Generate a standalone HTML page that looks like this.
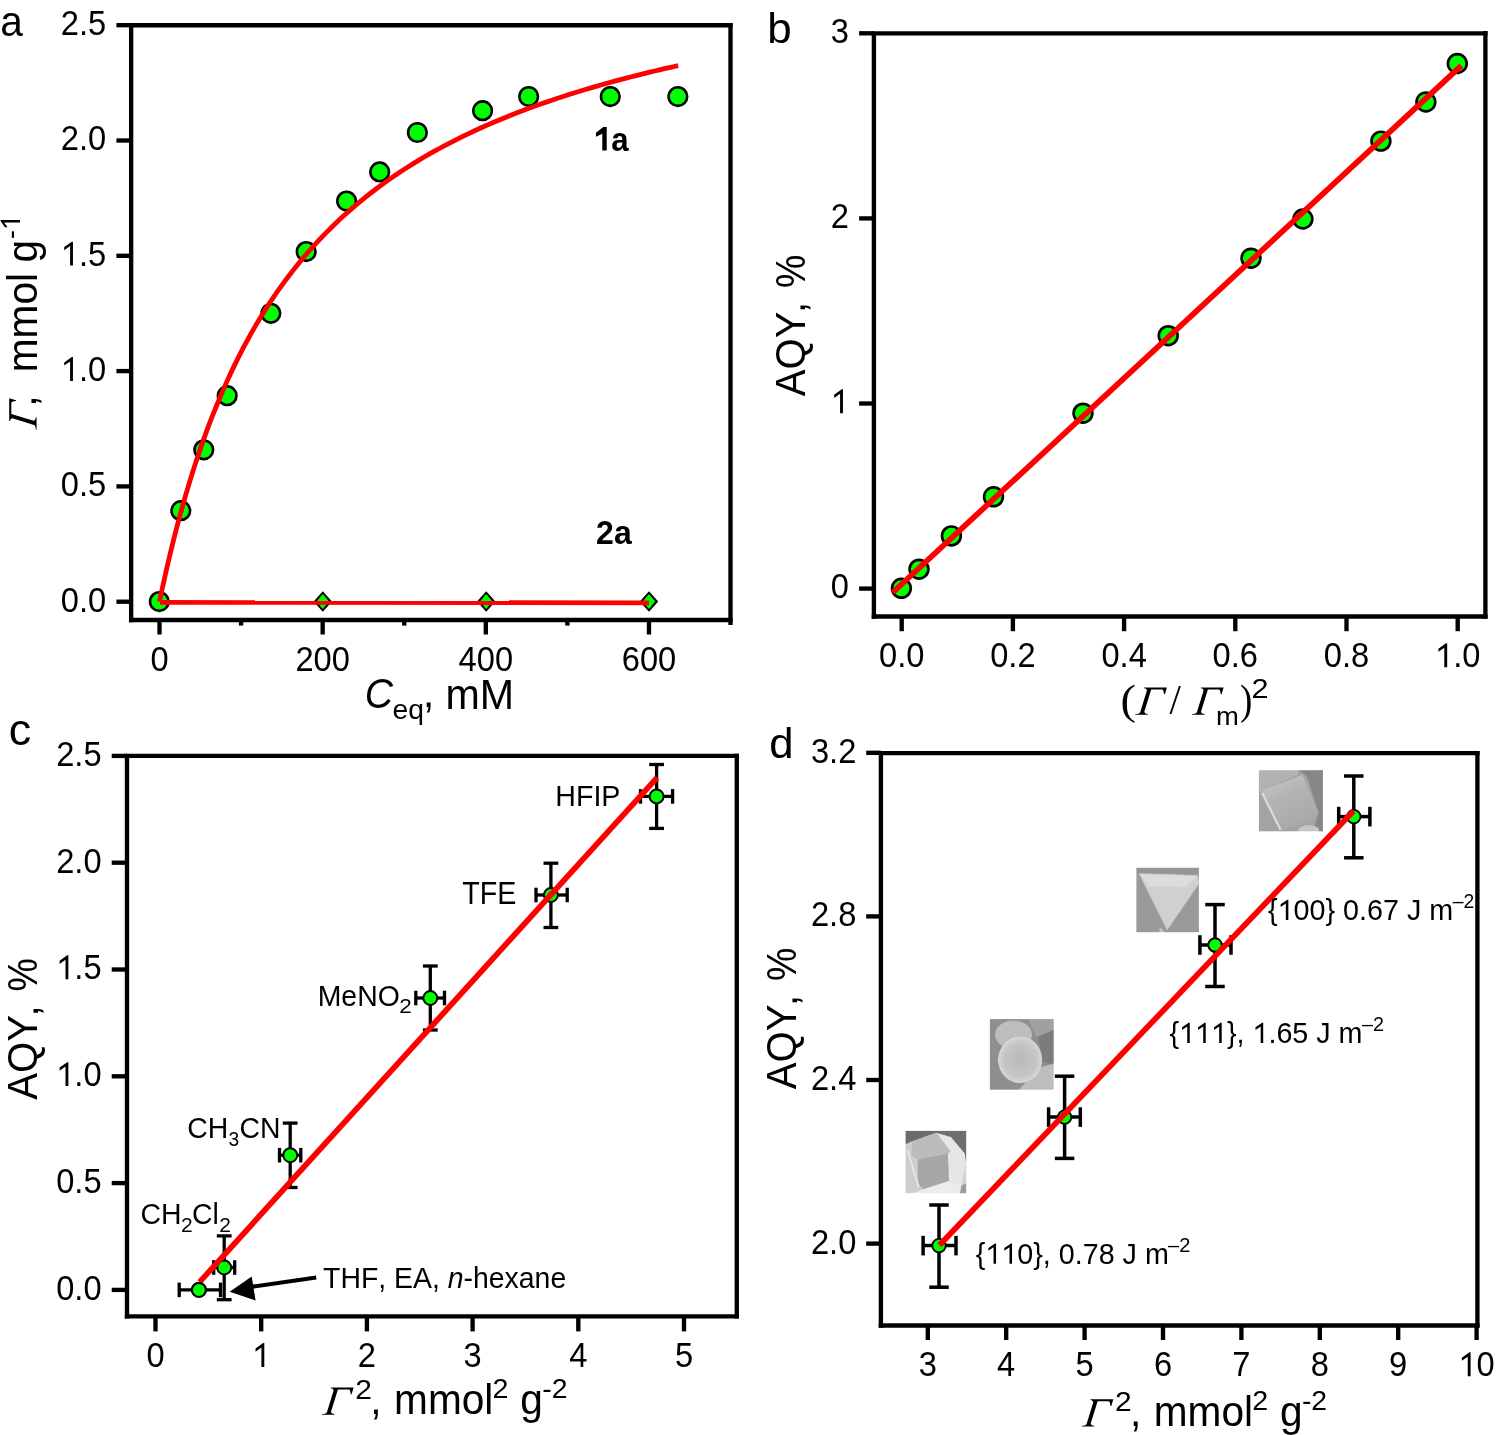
<!DOCTYPE html><html><head><meta charset="utf-8"><style>html,body{margin:0;padding:0;background:#fff;width:1496px;height:1435px;}svg{display:block;will-change:transform;}text{fill:#000;font-kerning:none;}</style></head><body><svg width="1496" height="1435" viewBox="0 0 1496 1435">
<rect width="1496" height="1435" fill="#fff"/>
<line x1="128.97" y1="25.2" x2="732.67" y2="25.2" stroke="#000" stroke-width="4.35" stroke-linecap="butt"/>
<line x1="128.97" y1="620" x2="732.67" y2="620" stroke="#000" stroke-width="4.35" stroke-linecap="butt"/>
<line x1="131.15" y1="25.2" x2="131.15" y2="622.17" stroke="#000" stroke-width="4.35" stroke-linecap="butt"/>
<line x1="730.5" y1="23.02" x2="730.5" y2="624.97" stroke="#000" stroke-width="4.35" stroke-linecap="butt"/>
<line x1="159.5" y1="620" x2="159.5" y2="634.5" stroke="#000" stroke-width="4.35" stroke-linecap="butt"/>
<text transform="translate(159.5,670.65) scale(0.95,1)" font-size="34.4" font-family='"Liberation Sans", sans-serif' text-anchor="middle">0</text>
<line x1="322.66" y1="620" x2="322.66" y2="634.5" stroke="#000" stroke-width="4.35" stroke-linecap="butt"/>
<text transform="translate(322.66,670.65) scale(0.95,1)" font-size="34.4" font-family='"Liberation Sans", sans-serif' text-anchor="middle">200</text>
<line x1="485.82" y1="620" x2="485.82" y2="634.5" stroke="#000" stroke-width="4.35" stroke-linecap="butt"/>
<text transform="translate(485.82,670.65) scale(0.95,1)" font-size="34.4" font-family='"Liberation Sans", sans-serif' text-anchor="middle">400</text>
<line x1="648.98" y1="620" x2="648.98" y2="634.5" stroke="#000" stroke-width="4.35" stroke-linecap="butt"/>
<text transform="translate(648.98,670.65) scale(0.95,1)" font-size="34.4" font-family='"Liberation Sans", sans-serif' text-anchor="middle">600</text>
<line x1="241.08" y1="620" x2="241.08" y2="625.6" stroke="#000" stroke-width="4.35" stroke-linecap="butt"/>
<line x1="404.24" y1="620" x2="404.24" y2="625.6" stroke="#000" stroke-width="4.35" stroke-linecap="butt"/>
<line x1="567.4" y1="620" x2="567.4" y2="625.6" stroke="#000" stroke-width="4.35" stroke-linecap="butt"/>
<line x1="116.4" y1="601.7" x2="131.15" y2="601.7" stroke="#000" stroke-width="4.35" stroke-linecap="butt"/>
<text transform="translate(106.21,611.5) scale(0.95,1)" font-size="34.4" font-family='"Liberation Sans", sans-serif' text-anchor="end">0.0</text>
<line x1="116.4" y1="486.4" x2="131.15" y2="486.4" stroke="#000" stroke-width="4.35" stroke-linecap="butt"/>
<text transform="translate(106.21,496.2) scale(0.95,1)" font-size="34.4" font-family='"Liberation Sans", sans-serif' text-anchor="end">0.5</text>
<line x1="116.4" y1="371.1" x2="131.15" y2="371.1" stroke="#000" stroke-width="4.35" stroke-linecap="butt"/>
<text transform="translate(106.21,380.9) scale(0.95,1)" font-size="34.4" font-family='"Liberation Sans", sans-serif' text-anchor="end">1.0</text>
<g transform="translate(106.21,380.9) scale(0.95,1)"><path transform="translate(-47.82,0) scale(0.01680,-0.01680)" d="M156 0L156 153L515 153L515 1237L197 1010L197 1180L530 1409L696 1409L696 153L1039 153L1039 0Z" fill="#fff" stroke="#fff" stroke-width="142.88" stroke-linejoin="round"/><path transform="translate(-47.82,0) scale(0.01680,-0.01680)" d="M763 0L584 0L584 1161L215 910L215 1100L690 1425L763 1425Z" fill="#000"/></g>
<line x1="116.4" y1="255.8" x2="131.15" y2="255.8" stroke="#000" stroke-width="4.35" stroke-linecap="butt"/>
<text transform="translate(106.21,265.6) scale(0.95,1)" font-size="34.4" font-family='"Liberation Sans", sans-serif' text-anchor="end">1.5</text>
<g transform="translate(106.21,265.6) scale(0.95,1)"><path transform="translate(-47.82,0) scale(0.01680,-0.01680)" d="M156 0L156 153L515 153L515 1237L197 1010L197 1180L530 1409L696 1409L696 153L1039 153L1039 0Z" fill="#fff" stroke="#fff" stroke-width="142.88" stroke-linejoin="round"/><path transform="translate(-47.82,0) scale(0.01680,-0.01680)" d="M763 0L584 0L584 1161L215 910L215 1100L690 1425L763 1425Z" fill="#000"/></g>
<line x1="116.4" y1="140.5" x2="131.15" y2="140.5" stroke="#000" stroke-width="4.35" stroke-linecap="butt"/>
<text transform="translate(106.21,150.3) scale(0.95,1)" font-size="34.4" font-family='"Liberation Sans", sans-serif' text-anchor="end">2.0</text>
<line x1="116.4" y1="25.2" x2="131.15" y2="25.2" stroke="#000" stroke-width="4.35" stroke-linecap="butt"/>
<text transform="translate(106.21,35) scale(0.95,1)" font-size="34.4" font-family='"Liberation Sans", sans-serif' text-anchor="end">2.5</text>
<path d="M322.8 591.15L332 601.5L322.8 611.85L313.6 601.5Z" fill="#000"/>
<path d="M322.8 593.9L329.05 601.5L322.8 609.1L316.55 601.5Z" fill="#00ff00"/>
<path d="M486.2 591.15L495.4 601.5L486.2 611.85L477 601.5Z" fill="#000"/>
<path d="M486.2 593.9L492.45 601.5L486.2 609.1L479.95 601.5Z" fill="#00ff00"/>
<path d="M649 591.15L658.2 601.5L649 611.85L639.8 601.5Z" fill="#000"/>
<path d="M649 593.9L655.25 601.5L649 609.1L642.75 601.5Z" fill="#00ff00"/>
<circle cx="159.3" cy="601.6" r="9.3" fill="#00ff00" stroke="#000" stroke-width="2.6"/>
<circle cx="180.8" cy="510.7" r="9.3" fill="#00ff00" stroke="#000" stroke-width="2.6"/>
<circle cx="203.8" cy="449.8" r="9.3" fill="#00ff00" stroke="#000" stroke-width="2.6"/>
<circle cx="227.2" cy="395.7" r="9.3" fill="#00ff00" stroke="#000" stroke-width="2.6"/>
<circle cx="270.9" cy="313.3" r="9.3" fill="#00ff00" stroke="#000" stroke-width="2.6"/>
<circle cx="306.2" cy="251.6" r="9.3" fill="#00ff00" stroke="#000" stroke-width="2.6"/>
<circle cx="346.6" cy="201.1" r="9.3" fill="#00ff00" stroke="#000" stroke-width="2.6"/>
<circle cx="379.7" cy="171.9" r="9.3" fill="#00ff00" stroke="#000" stroke-width="2.6"/>
<circle cx="417.4" cy="132.5" r="9.3" fill="#00ff00" stroke="#000" stroke-width="2.6"/>
<circle cx="482.6" cy="110.7" r="9.3" fill="#00ff00" stroke="#000" stroke-width="2.6"/>
<circle cx="528.7" cy="96.5" r="9.3" fill="#00ff00" stroke="#000" stroke-width="2.6"/>
<circle cx="610.3" cy="96.6" r="9.3" fill="#00ff00" stroke="#000" stroke-width="2.6"/>
<circle cx="677.9" cy="96.6" r="9.3" fill="#00ff00" stroke="#000" stroke-width="2.6"/>
<polyline fill="none" stroke="#ff0000" stroke-width="4.8" stroke-linejoin="round" points="159.5,601.7 160.32,597.79 161.13,593.92 161.95,590.1 162.76,586.32 163.58,582.58 164.39,578.88 165.21,575.23 166.03,571.61 166.84,568.03 167.66,564.5 168.47,561 169.29,557.54 170.11,554.12 170.92,550.73 171.74,547.38 172.55,544.06 173.37,540.78 174.18,537.54 175,534.32 175.82,531.14 176.63,528 177.45,524.88 178.26,521.8 179.08,518.75 179.9,515.73 180.71,512.74 181.53,509.77 182.34,506.84 183.16,503.94 183.97,501.07 184.79,498.22 185.61,495.4 186.42,492.61 187.24,489.85 188.05,487.11 188.87,484.4 189.68,481.72 190.5,479.06 191.32,476.42 192.13,473.81 194.58,466.12 197.03,458.65 199.47,451.37 201.92,444.29 204.37,437.4 206.82,430.68 209.26,424.14 211.71,417.76 214.16,411.54 216.61,405.48 219.05,399.56 221.5,393.78 223.95,388.14 226.4,382.64 228.84,377.26 231.29,372.01 233.74,366.87 236.19,361.85 238.63,356.94 241.08,352.14 243.53,347.44 245.97,342.85 248.42,338.35 250.87,333.94 253.32,329.63 255.76,325.41 258.21,321.27 260.66,317.22 263.11,313.24 265.55,309.35 268,305.53 270.45,301.79 272.9,298.12 275.34,294.51 277.79,290.98 280.24,287.51 282.69,284.11 287.58,277.48 292.48,271.1 297.37,264.93 302.26,258.98 307.16,253.23 312.05,247.67 316.95,242.3 321.84,237.1 326.74,232.06 331.63,227.18 336.53,222.45 341.42,217.86 346.32,213.41 351.21,209.09 356.11,204.9 361,200.82 365.9,196.86 370.79,193.01 375.69,189.27 380.58,185.62 385.48,182.08 390.37,178.62 395.27,175.26 400.16,171.98 405.06,168.79 409.95,165.67 414.85,162.63 419.74,159.67 424.63,156.78 429.53,153.95 434.42,151.19 439.32,148.5 444.21,145.87 449.11,143.3 454,140.78 458.9,138.33 463.79,135.92 468.69,133.57 473.58,131.27 478.48,129.02 483.37,126.81 488.27,124.65 493.16,122.54 498.06,120.46 502.95,118.43 507.85,116.45 512.74,114.5 517.64,112.58 522.53,110.71 527.43,108.87 532.32,107.07 537.22,105.3 542.11,103.56 547,101.86 551.9,100.18 556.79,98.54 561.69,96.93 566.58,95.34 571.48,93.79 576.37,92.26 581.27,90.76 586.16,89.28 591.06,87.83 595.95,86.4 600.85,85 605.74,83.62 610.64,82.26 615.53,80.93 620.43,79.62 625.32,78.32 630.22,77.05 635.11,75.8 640.01,74.57 644.9,73.36 649.8,72.17 654.69,70.99 659.59,69.84 664.48,68.7 669.38,67.57 674.27,66.47 678.19,65.6"/>
<line x1="160" y1="602.4" x2="649" y2="602.8" stroke="#ff0000" stroke-width="4.7" stroke-linecap="butt"/>
<text transform="translate(593.85,150.6) scale(0.92,1)" font-size="34" font-family='"Liberation Sans", sans-serif' font-weight="bold">1a</text>
<g transform="translate(593.85,150.6) scale(0.92,1)"><path transform="translate(0,0) scale(0.01660,-0.01660)" d="M129 0L129 209L478 209L478 1170L140 959L140 1180L493 1409L759 1409L759 209L1082 209L1082 0Z" fill="#fff" stroke="#fff" stroke-width="144.56" stroke-linejoin="round"/><path transform="translate(0,0) scale(0.01660,-0.01660)" d="M844 0L552 0L552 1010L140 837L140 1078L615 1425L844 1425Z" fill="#000"/></g>
<text transform="translate(596.08,543.6) scale(0.95,1)" font-size="33.71" font-family='"Liberation Sans", sans-serif' font-weight="bold">2a</text>
<text transform="translate(0.36,36.28) scale(0.97,1)" font-size="41.93" font-family='"Liberation Sans", sans-serif'>a</text>
<text transform="translate(364.85,708.48) scale(0.93,1)" font-size="42.11" font-family='"Liberation Sans", sans-serif' font-style="italic">C</text>
<text transform="translate(392.43,719.08) scale(1.01,1)" font-size="28" font-family='"Liberation Sans", sans-serif'>eq</text>
<text transform="translate(422.97,707.41) scale(0.96,1)" font-size="42" font-family='"Liberation Sans", sans-serif'>,</text>
<text transform="translate(445.52,708.9) scale(0.96,1)" font-size="42.92" font-family='"Liberation Sans", sans-serif'>mM</text>
<path transform="translate(36.6,429.8) rotate(-90) scale(1,1)" d="M0 0L12.6 0L12.5 -0.8C10.5 -0.9 9.5 -1.4 9.0 -3.0L15.9 -25.3L26.6 -25.3C27.9 -25.3 28.4 -24.2 28.7 -20.6L29.6 -20.6L31.6 -27.4L8.8 -27.4L8.9 -26.6C10.4 -26.5 11.2 -25.8 11.6 -24.3L4.9 -2.6C4.4 -1.4 3.0 -0.9 0.2 -0.8Z" fill="#000"/>
<text transform="translate(36.44,406.86) rotate(-90) scale(0.96,1)" font-size="42.3" font-family='"Liberation Sans", sans-serif'>,</text>
<text transform="translate(36.6,372.23) rotate(-90) scale(0.96,1)" font-size="42.3" font-family='"Liberation Sans", sans-serif'>mmol</text>
<text transform="translate(37.23,262.42) rotate(-90) scale(0.96,1)" font-size="42.3" font-family='"Liberation Sans", sans-serif'>g</text>
<text transform="translate(20,239.01) rotate(-90) scale(0.96,1)" font-size="28" font-family='"Liberation Sans", sans-serif'>-1</text>
<g transform="translate(20,239.01) rotate(-90) scale(0.96,1)"><path transform="translate(9.32,0) scale(0.01367,-0.01367)" d="M156 0L156 153L515 153L515 1237L197 1010L197 1180L530 1409L696 1409L696 153L1039 153L1039 0Z" fill="#fff" stroke="#fff" stroke-width="175.54" stroke-linejoin="round"/><path transform="translate(9.32,0) scale(0.01367,-0.01367)" d="M763 0L584 0L584 1161L215 910L215 1100L690 1425L763 1425Z" fill="#000"/></g>
<line x1="871.73" y1="33.3" x2="1487.58" y2="33.3" stroke="#000" stroke-width="4.35" stroke-linecap="butt"/>
<line x1="871.73" y1="616.5" x2="1487.58" y2="616.5" stroke="#000" stroke-width="4.35" stroke-linecap="butt"/>
<line x1="873.9" y1="33.3" x2="873.9" y2="618.67" stroke="#000" stroke-width="4.35" stroke-linecap="butt"/>
<line x1="1485.4" y1="31.12" x2="1485.4" y2="618.67" stroke="#000" stroke-width="4.35" stroke-linecap="butt"/>
<line x1="901.7" y1="616.5" x2="901.7" y2="631.2" stroke="#000" stroke-width="4.35" stroke-linecap="butt"/>
<text transform="translate(901.7,667.15) scale(0.95,1)" font-size="34.4" font-family='"Liberation Sans", sans-serif' text-anchor="middle">0.0</text>
<line x1="1012.9" y1="616.5" x2="1012.9" y2="631.2" stroke="#000" stroke-width="4.35" stroke-linecap="butt"/>
<text transform="translate(1012.9,667.15) scale(0.95,1)" font-size="34.4" font-family='"Liberation Sans", sans-serif' text-anchor="middle">0.2</text>
<line x1="1124.1" y1="616.5" x2="1124.1" y2="631.2" stroke="#000" stroke-width="4.35" stroke-linecap="butt"/>
<text transform="translate(1124.1,667.15) scale(0.95,1)" font-size="34.4" font-family='"Liberation Sans", sans-serif' text-anchor="middle">0.4</text>
<line x1="1235.3" y1="616.5" x2="1235.3" y2="631.2" stroke="#000" stroke-width="4.35" stroke-linecap="butt"/>
<text transform="translate(1235.3,667.15) scale(0.95,1)" font-size="34.4" font-family='"Liberation Sans", sans-serif' text-anchor="middle">0.6</text>
<line x1="1346.5" y1="616.5" x2="1346.5" y2="631.2" stroke="#000" stroke-width="4.35" stroke-linecap="butt"/>
<text transform="translate(1346.5,667.15) scale(0.95,1)" font-size="34.4" font-family='"Liberation Sans", sans-serif' text-anchor="middle">0.8</text>
<line x1="1457.7" y1="616.5" x2="1457.7" y2="631.2" stroke="#000" stroke-width="4.35" stroke-linecap="butt"/>
<text transform="translate(1457.7,667.15) scale(0.95,1)" font-size="34.4" font-family='"Liberation Sans", sans-serif' text-anchor="middle">1.0</text>
<g transform="translate(1457.7,667.15) scale(0.95,1)"><path transform="translate(-23.91,0) scale(0.01680,-0.01680)" d="M156 0L156 153L515 153L515 1237L197 1010L197 1180L530 1409L696 1409L696 153L1039 153L1039 0Z" fill="#fff" stroke="#fff" stroke-width="142.88" stroke-linejoin="round"/><path transform="translate(-23.91,0) scale(0.01680,-0.01680)" d="M763 0L584 0L584 1161L215 910L215 1100L690 1425L763 1425Z" fill="#000"/></g>
<line x1="859.1" y1="588.6" x2="873.9" y2="588.6" stroke="#000" stroke-width="4.35" stroke-linecap="butt"/>
<text transform="translate(848.94,598.3) scale(0.95,1)" font-size="34.4" font-family='"Liberation Sans", sans-serif' text-anchor="end">0</text>
<line x1="859.1" y1="403.5" x2="873.9" y2="403.5" stroke="#000" stroke-width="4.35" stroke-linecap="butt"/>
<text transform="translate(848.94,413.2) scale(0.95,1)" font-size="34.4" font-family='"Liberation Sans", sans-serif' text-anchor="end">1</text>
<g transform="translate(848.94,413.2) scale(0.95,1)"><path transform="translate(-19.13,0) scale(0.01680,-0.01680)" d="M156 0L156 153L515 153L515 1237L197 1010L197 1180L530 1409L696 1409L696 153L1039 153L1039 0Z" fill="#fff" stroke="#fff" stroke-width="142.88" stroke-linejoin="round"/><path transform="translate(-19.13,0) scale(0.01680,-0.01680)" d="M763 0L584 0L584 1161L215 910L215 1100L690 1425L763 1425Z" fill="#000"/></g>
<line x1="859.1" y1="218.4" x2="873.9" y2="218.4" stroke="#000" stroke-width="4.35" stroke-linecap="butt"/>
<text transform="translate(848.94,228.1) scale(0.95,1)" font-size="34.4" font-family='"Liberation Sans", sans-serif' text-anchor="end">2</text>
<line x1="859.1" y1="33.3" x2="873.9" y2="33.3" stroke="#000" stroke-width="4.35" stroke-linecap="butt"/>
<text transform="translate(848.94,43) scale(0.95,1)" font-size="34.4" font-family='"Liberation Sans", sans-serif' text-anchor="end">3</text>
<circle cx="901.4" cy="588.3" r="9.4" fill="#00ff00" stroke="#000" stroke-width="2.65"/>
<circle cx="919" cy="569.2" r="9.4" fill="#00ff00" stroke="#000" stroke-width="2.65"/>
<circle cx="951.4" cy="535.9" r="9.4" fill="#00ff00" stroke="#000" stroke-width="2.65"/>
<circle cx="993.5" cy="496.8" r="9.4" fill="#00ff00" stroke="#000" stroke-width="2.65"/>
<circle cx="1083" cy="413.2" r="9.4" fill="#00ff00" stroke="#000" stroke-width="2.65"/>
<circle cx="1168.2" cy="335.7" r="9.4" fill="#00ff00" stroke="#000" stroke-width="2.65"/>
<circle cx="1251" cy="258.2" r="9.4" fill="#00ff00" stroke="#000" stroke-width="2.65"/>
<circle cx="1302.9" cy="219" r="9.4" fill="#00ff00" stroke="#000" stroke-width="2.65"/>
<circle cx="1380.9" cy="141.1" r="9.4" fill="#00ff00" stroke="#000" stroke-width="2.65"/>
<circle cx="1425.9" cy="102" r="9.4" fill="#00ff00" stroke="#000" stroke-width="2.65"/>
<circle cx="1457.3" cy="63.5" r="9.4" fill="#00ff00" stroke="#000" stroke-width="2.65"/>
<line x1="892.7" y1="592.5" x2="1461.3" y2="65.7" stroke="#ff0000" stroke-width="5.7" stroke-linecap="butt"/>
<text transform="translate(767.15,43.07) scale(1.03,1)" font-size="42.59" font-family='"Liberation Sans", sans-serif'>b</text>
<text transform="translate(804.5,396.2) rotate(-90) scale(0.93,1)" font-size="43.07" font-family='"Liberation Sans", sans-serif'>AQY</text>
<text transform="translate(805.42,312.9) rotate(-90) scale(0.93,1)" font-size="43.07" font-family='"Liberation Sans", sans-serif'>,</text>
<text transform="translate(804.5,287.91) rotate(-90) scale(0.87,1)" font-size="43.07" font-family='"Liberation Sans", sans-serif'>%</text>
<text transform="translate(1120.42,714.42) scale(1.12,1)" font-size="41.33" font-family='"Liberation Serif", serif'>(</text>
<path transform="translate(1135.3,714.8) rotate(0) scale(1,1)" d="M0 0L12.6 0L12.5 -0.8C10.5 -0.9 9.5 -1.4 9.0 -3.0L15.9 -25.3L26.6 -25.3C27.9 -25.3 28.4 -24.2 28.7 -20.6L29.6 -20.6L31.6 -27.4L8.8 -27.4L8.9 -26.6C10.4 -26.5 11.2 -25.8 11.6 -24.3L4.9 -2.6C4.4 -1.4 3.0 -0.9 0.2 -0.8Z" fill="#000"/>
<text transform="translate(1169.5,714.37) scale(0.95,1)" font-size="43.13" font-family='"Liberation Serif", serif'>/</text>
<path transform="translate(1192,714.8) rotate(0) scale(1,1)" d="M0 0L12.6 0L12.5 -0.8C10.5 -0.9 9.5 -1.4 9.0 -3.0L15.9 -25.3L26.6 -25.3C27.9 -25.3 28.4 -24.2 28.7 -20.6L29.6 -20.6L31.6 -27.4L8.8 -27.4L8.9 -26.6C10.4 -26.5 11.2 -25.8 11.6 -24.3L4.9 -2.6C4.4 -1.4 3.0 -0.9 0.2 -0.8Z" fill="#000"/>
<text transform="translate(1215.92,725.2) scale(1.08,1)" font-size="25.42" font-family='"Liberation Sans", sans-serif'>m</text>
<text transform="translate(1240.09,714.16) scale(0.87,1)" font-size="42.56" font-family='"Liberation Serif", serif'>)</text>
<text transform="translate(1251.47,697.7) scale(1.11,1)" font-size="27.57" font-family='"Liberation Sans", sans-serif'>2</text>
<line x1="124.83" y1="755.9" x2="738.97" y2="755.9" stroke="#000" stroke-width="4.35" stroke-linecap="butt"/>
<line x1="124.83" y1="1316.4" x2="738.97" y2="1316.4" stroke="#000" stroke-width="4.35" stroke-linecap="butt"/>
<line x1="127" y1="755.9" x2="127" y2="1318.58" stroke="#000" stroke-width="4.35" stroke-linecap="butt"/>
<line x1="736.8" y1="753.73" x2="736.8" y2="1318.58" stroke="#000" stroke-width="4.35" stroke-linecap="butt"/>
<line x1="155.5" y1="1316.4" x2="155.5" y2="1331.4" stroke="#000" stroke-width="4.35" stroke-linecap="butt"/>
<text transform="translate(155.5,1367.05) scale(0.95,1)" font-size="34.4" font-family='"Liberation Sans", sans-serif' text-anchor="middle">0</text>
<line x1="261.2" y1="1316.4" x2="261.2" y2="1331.4" stroke="#000" stroke-width="4.35" stroke-linecap="butt"/>
<text transform="translate(261.2,1367.05) scale(0.95,1)" font-size="34.4" font-family='"Liberation Sans", sans-serif' text-anchor="middle">1</text>
<g transform="translate(261.2,1367.05) scale(0.95,1)"><path transform="translate(-9.57,0) scale(0.01680,-0.01680)" d="M156 0L156 153L515 153L515 1237L197 1010L197 1180L530 1409L696 1409L696 153L1039 153L1039 0Z" fill="#fff" stroke="#fff" stroke-width="142.88" stroke-linejoin="round"/><path transform="translate(-9.57,0) scale(0.01680,-0.01680)" d="M763 0L584 0L584 1161L215 910L215 1100L690 1425L763 1425Z" fill="#000"/></g>
<line x1="366.9" y1="1316.4" x2="366.9" y2="1331.4" stroke="#000" stroke-width="4.35" stroke-linecap="butt"/>
<text transform="translate(366.9,1367.05) scale(0.95,1)" font-size="34.4" font-family='"Liberation Sans", sans-serif' text-anchor="middle">2</text>
<line x1="472.6" y1="1316.4" x2="472.6" y2="1331.4" stroke="#000" stroke-width="4.35" stroke-linecap="butt"/>
<text transform="translate(472.6,1367.05) scale(0.95,1)" font-size="34.4" font-family='"Liberation Sans", sans-serif' text-anchor="middle">3</text>
<line x1="578.3" y1="1316.4" x2="578.3" y2="1331.4" stroke="#000" stroke-width="4.35" stroke-linecap="butt"/>
<text transform="translate(578.3,1367.05) scale(0.95,1)" font-size="34.4" font-family='"Liberation Sans", sans-serif' text-anchor="middle">4</text>
<line x1="684" y1="1316.4" x2="684" y2="1331.4" stroke="#000" stroke-width="4.35" stroke-linecap="butt"/>
<text transform="translate(684,1367.05) scale(0.95,1)" font-size="34.4" font-family='"Liberation Sans", sans-serif' text-anchor="middle">5</text>
<line x1="111.7" y1="1289.9" x2="127" y2="1289.9" stroke="#000" stroke-width="4.35" stroke-linecap="butt"/>
<text transform="translate(101.61,1299.7) scale(0.95,1)" font-size="34.4" font-family='"Liberation Sans", sans-serif' text-anchor="end">0.0</text>
<line x1="111.7" y1="1183.1" x2="127" y2="1183.1" stroke="#000" stroke-width="4.35" stroke-linecap="butt"/>
<text transform="translate(101.61,1192.9) scale(0.95,1)" font-size="34.4" font-family='"Liberation Sans", sans-serif' text-anchor="end">0.5</text>
<line x1="111.7" y1="1076.3" x2="127" y2="1076.3" stroke="#000" stroke-width="4.35" stroke-linecap="butt"/>
<text transform="translate(101.61,1086.1) scale(0.95,1)" font-size="34.4" font-family='"Liberation Sans", sans-serif' text-anchor="end">1.0</text>
<g transform="translate(101.61,1086.1) scale(0.95,1)"><path transform="translate(-47.82,0) scale(0.01680,-0.01680)" d="M156 0L156 153L515 153L515 1237L197 1010L197 1180L530 1409L696 1409L696 153L1039 153L1039 0Z" fill="#fff" stroke="#fff" stroke-width="142.88" stroke-linejoin="round"/><path transform="translate(-47.82,0) scale(0.01680,-0.01680)" d="M763 0L584 0L584 1161L215 910L215 1100L690 1425L763 1425Z" fill="#000"/></g>
<line x1="111.7" y1="969.5" x2="127" y2="969.5" stroke="#000" stroke-width="4.35" stroke-linecap="butt"/>
<text transform="translate(101.61,979.3) scale(0.95,1)" font-size="34.4" font-family='"Liberation Sans", sans-serif' text-anchor="end">1.5</text>
<g transform="translate(101.61,979.3) scale(0.95,1)"><path transform="translate(-47.82,0) scale(0.01680,-0.01680)" d="M156 0L156 153L515 153L515 1237L197 1010L197 1180L530 1409L696 1409L696 153L1039 153L1039 0Z" fill="#fff" stroke="#fff" stroke-width="142.88" stroke-linejoin="round"/><path transform="translate(-47.82,0) scale(0.01680,-0.01680)" d="M763 0L584 0L584 1161L215 910L215 1100L690 1425L763 1425Z" fill="#000"/></g>
<line x1="111.7" y1="862.7" x2="127" y2="862.7" stroke="#000" stroke-width="4.35" stroke-linecap="butt"/>
<text transform="translate(101.61,872.5) scale(0.95,1)" font-size="34.4" font-family='"Liberation Sans", sans-serif' text-anchor="end">2.0</text>
<line x1="111.7" y1="755.9" x2="127" y2="755.9" stroke="#000" stroke-width="4.35" stroke-linecap="butt"/>
<text transform="translate(101.61,765.7) scale(0.95,1)" font-size="34.4" font-family='"Liberation Sans", sans-serif' text-anchor="end">2.5</text>
<line x1="179.2" y1="1289.9" x2="220.5" y2="1289.9" stroke="#000" stroke-width="3.3" stroke-linecap="butt"/>
<line x1="179.2" y1="1282.6" x2="179.2" y2="1297.2" stroke="#000" stroke-width="3.3" stroke-linecap="butt"/>
<line x1="220.5" y1="1282.6" x2="220.5" y2="1297.2" stroke="#000" stroke-width="3.3" stroke-linecap="butt"/>
<line x1="224.2" y1="1235.9" x2="224.2" y2="1299.7" stroke="#000" stroke-width="3.3" stroke-linecap="butt"/>
<line x1="216.8" y1="1235.9" x2="231.6" y2="1235.9" stroke="#000" stroke-width="3.3" stroke-linecap="butt"/>
<line x1="216.8" y1="1299.7" x2="231.6" y2="1299.7" stroke="#000" stroke-width="3.3" stroke-linecap="butt"/>
<line x1="213.7" y1="1267.5" x2="234.7" y2="1267.5" stroke="#000" stroke-width="3.3" stroke-linecap="butt"/>
<line x1="213.7" y1="1260.2" x2="213.7" y2="1274.8" stroke="#000" stroke-width="3.3" stroke-linecap="butt"/>
<line x1="234.7" y1="1260.2" x2="234.7" y2="1274.8" stroke="#000" stroke-width="3.3" stroke-linecap="butt"/>
<line x1="290.2" y1="1123.1" x2="290.2" y2="1187.5" stroke="#000" stroke-width="3.3" stroke-linecap="butt"/>
<line x1="282.8" y1="1123.1" x2="297.6" y2="1123.1" stroke="#000" stroke-width="3.3" stroke-linecap="butt"/>
<line x1="282.8" y1="1187.5" x2="297.6" y2="1187.5" stroke="#000" stroke-width="3.3" stroke-linecap="butt"/>
<line x1="279.5" y1="1155.2" x2="300.8" y2="1155.2" stroke="#000" stroke-width="3.3" stroke-linecap="butt"/>
<line x1="279.5" y1="1147.9" x2="279.5" y2="1162.5" stroke="#000" stroke-width="3.3" stroke-linecap="butt"/>
<line x1="300.8" y1="1147.9" x2="300.8" y2="1162.5" stroke="#000" stroke-width="3.3" stroke-linecap="butt"/>
<line x1="430.3" y1="966" x2="430.3" y2="1030" stroke="#000" stroke-width="3.3" stroke-linecap="butt"/>
<line x1="422.9" y1="966" x2="437.7" y2="966" stroke="#000" stroke-width="3.3" stroke-linecap="butt"/>
<line x1="422.9" y1="1030" x2="437.7" y2="1030" stroke="#000" stroke-width="3.3" stroke-linecap="butt"/>
<line x1="415.8" y1="998" x2="444.5" y2="998" stroke="#000" stroke-width="3.3" stroke-linecap="butt"/>
<line x1="415.8" y1="990.7" x2="415.8" y2="1005.3" stroke="#000" stroke-width="3.3" stroke-linecap="butt"/>
<line x1="444.5" y1="990.7" x2="444.5" y2="1005.3" stroke="#000" stroke-width="3.3" stroke-linecap="butt"/>
<line x1="550.9" y1="863.2" x2="550.9" y2="927.5" stroke="#000" stroke-width="3.3" stroke-linecap="butt"/>
<line x1="543.5" y1="863.2" x2="558.3" y2="863.2" stroke="#000" stroke-width="3.3" stroke-linecap="butt"/>
<line x1="543.5" y1="927.5" x2="558.3" y2="927.5" stroke="#000" stroke-width="3.3" stroke-linecap="butt"/>
<line x1="536" y1="895" x2="567.2" y2="895" stroke="#000" stroke-width="3.3" stroke-linecap="butt"/>
<line x1="536" y1="887.7" x2="536" y2="902.3" stroke="#000" stroke-width="3.3" stroke-linecap="butt"/>
<line x1="567.2" y1="887.7" x2="567.2" y2="902.3" stroke="#000" stroke-width="3.3" stroke-linecap="butt"/>
<line x1="656.6" y1="764.5" x2="656.6" y2="828.4" stroke="#000" stroke-width="3.3" stroke-linecap="butt"/>
<line x1="649.2" y1="764.5" x2="664" y2="764.5" stroke="#000" stroke-width="3.3" stroke-linecap="butt"/>
<line x1="649.2" y1="828.4" x2="664" y2="828.4" stroke="#000" stroke-width="3.3" stroke-linecap="butt"/>
<line x1="640.5" y1="796.4" x2="672.6" y2="796.4" stroke="#000" stroke-width="3.3" stroke-linecap="butt"/>
<line x1="640.5" y1="789.1" x2="640.5" y2="803.7" stroke="#000" stroke-width="3.3" stroke-linecap="butt"/>
<line x1="672.6" y1="789.1" x2="672.6" y2="803.7" stroke="#000" stroke-width="3.3" stroke-linecap="butt"/>
<circle cx="198.9" cy="1289.9" r="6.95" fill="#00ff00" stroke="#000" stroke-width="1.95"/>
<circle cx="224.2" cy="1267.5" r="6.95" fill="#00ff00" stroke="#000" stroke-width="1.95"/>
<circle cx="290.2" cy="1155.2" r="6.95" fill="#00ff00" stroke="#000" stroke-width="1.95"/>
<circle cx="430.3" cy="998" r="6.95" fill="#00ff00" stroke="#000" stroke-width="1.95"/>
<circle cx="550.9" cy="895" r="6.95" fill="#00ff00" stroke="#000" stroke-width="1.95"/>
<circle cx="656.6" cy="796.4" r="6.95" fill="#00ff00" stroke="#000" stroke-width="1.95"/>
<line x1="199.5" y1="1282.2" x2="657.1" y2="777.6" stroke="#ff0000" stroke-width="5.7" stroke-linecap="butt"/>
<circle cx="198.9" cy="1289.9" r="6.95" fill="#00ff00" stroke="#000" stroke-width="1.95"/>
<text transform="translate(555.31,805.5) scale(0.96,1)" font-size="29.78" font-family='"Liberation Sans", sans-serif'>HFIP</text>
<text transform="translate(462.18,904.1) scale(0.94,1)" font-size="30.51" font-family='"Liberation Sans", sans-serif'>TFE</text>
<text transform="translate(317.71,1006) scale(0.96,1)" font-size="29.6" font-family='"Liberation Sans", sans-serif'>MeNO</text>
<text transform="translate(399.27,1013.4) scale(1.13,1)" font-size="20" font-family='"Liberation Sans", sans-serif'>2</text>
<text transform="translate(187.17,1138.3) scale(0.96,1)" font-size="29.6" font-family='"Liberation Sans", sans-serif'>CH</text>
<text transform="translate(228.53,1146.4) scale(0.94,1)" font-size="20.42" font-family='"Liberation Sans", sans-serif'>3</text>
<text transform="translate(239.41,1138.3) scale(0.96,1)" font-size="29.6" font-family='"Liberation Sans", sans-serif'>CN</text>
<text transform="translate(140.57,1223.5) scale(0.96,1)" font-size="29.6" font-family='"Liberation Sans", sans-serif'>CH</text>
<text transform="translate(181.05,1231.8) scale(1.09,1)" font-size="19.29" font-family='"Liberation Sans", sans-serif'>2</text>
<text transform="translate(192.07,1223.5) scale(0.96,1)" font-size="29.6" font-family='"Liberation Sans", sans-serif'>Cl</text>
<text transform="translate(219.15,1231.8) scale(1.09,1)" font-size="19.29" font-family='"Liberation Sans", sans-serif'>2</text>
<text transform="translate(323.09,1287.8) scale(0.96,1)" font-size="29.6" font-family='"Liberation Sans", sans-serif'>THF, EA, <tspan font-style="italic">n</tspan>-hexane</text>
<line x1="316.2" y1="1277.5" x2="250" y2="1287" stroke="#000" stroke-width="4" stroke-linecap="butt"/>
<path d="M229.7 1291.8 L251.7 1276.4 L255.6 1300.6 Z" fill="#000"/>
<text transform="translate(8.84,745.37) scale(1.03,1)" font-size="43.49" font-family='"Liberation Sans", sans-serif'>c</text>
<text transform="translate(37.4,1099.8) rotate(-90) scale(0.93,1)" font-size="43.21" font-family='"Liberation Sans", sans-serif'>AQY</text>
<text transform="translate(38.34,1016.5) rotate(-90) scale(0.93,1)" font-size="43.21" font-family='"Liberation Sans", sans-serif'>,</text>
<text transform="translate(37.4,991.51) rotate(-90) scale(0.87,1)" font-size="43.21" font-family='"Liberation Sans", sans-serif'>%</text>
<path transform="translate(322,1414.8) rotate(0) scale(1,1)" d="M0 0L12.6 0L12.5 -0.8C10.5 -0.9 9.5 -1.4 9.0 -3.0L15.9 -25.3L26.6 -25.3C27.9 -25.3 28.4 -24.2 28.7 -20.6L29.6 -20.6L31.6 -27.4L8.8 -27.4L8.9 -26.6C10.4 -26.5 11.2 -25.8 11.6 -24.3L4.9 -2.6C4.4 -1.4 3.0 -0.9 0.2 -0.8Z" fill="#000"/>
<text transform="translate(355.21,1398.7) scale(1.1,1)" font-size="27.29" font-family='"Liberation Sans", sans-serif'>2</text>
<text transform="translate(370.24,1414.21) scale(0.96,1)" font-size="42.3" font-family='"Liberation Sans", sans-serif'>,</text>
<text transform="translate(394.07,1414.38) scale(0.96,1)" font-size="42.3" font-family='"Liberation Sans", sans-serif'>mmol</text>
<text transform="translate(492.57,1397.8) scale(1.05,1)" font-size="27.29" font-family='"Liberation Sans", sans-serif'>2</text>
<text transform="translate(520.18,1414.33) scale(0.96,1)" font-size="42.3" font-family='"Liberation Sans", sans-serif'>g</text>
<text transform="translate(542.22,1397.8) scale(1.04,1)" font-size="27.3" font-family='"Liberation Sans", sans-serif'>-2</text>
<line x1="878.73" y1="753.1" x2="1479.58" y2="753.1" stroke="#000" stroke-width="4.35" stroke-linecap="butt"/>
<line x1="878.73" y1="1325.5" x2="1479.58" y2="1325.5" stroke="#000" stroke-width="4.35" stroke-linecap="butt"/>
<line x1="880.9" y1="753.1" x2="880.9" y2="1327.67" stroke="#000" stroke-width="4.35" stroke-linecap="butt"/>
<line x1="1477.4" y1="750.93" x2="1477.4" y2="1327.67" stroke="#000" stroke-width="4.35" stroke-linecap="butt"/>
<line x1="927.8" y1="1325.5" x2="927.8" y2="1340" stroke="#000" stroke-width="4.35" stroke-linecap="butt"/>
<text transform="translate(927.8,1376.15) scale(0.95,1)" font-size="34.4" font-family='"Liberation Sans", sans-serif' text-anchor="middle">3</text>
<line x1="1006.2" y1="1325.5" x2="1006.2" y2="1340" stroke="#000" stroke-width="4.35" stroke-linecap="butt"/>
<text transform="translate(1006.2,1376.15) scale(0.95,1)" font-size="34.4" font-family='"Liberation Sans", sans-serif' text-anchor="middle">4</text>
<line x1="1084.6" y1="1325.5" x2="1084.6" y2="1340" stroke="#000" stroke-width="4.35" stroke-linecap="butt"/>
<text transform="translate(1084.6,1376.15) scale(0.95,1)" font-size="34.4" font-family='"Liberation Sans", sans-serif' text-anchor="middle">5</text>
<line x1="1163" y1="1325.5" x2="1163" y2="1340" stroke="#000" stroke-width="4.35" stroke-linecap="butt"/>
<text transform="translate(1163,1376.15) scale(0.95,1)" font-size="34.4" font-family='"Liberation Sans", sans-serif' text-anchor="middle">6</text>
<line x1="1241.4" y1="1325.5" x2="1241.4" y2="1340" stroke="#000" stroke-width="4.35" stroke-linecap="butt"/>
<text transform="translate(1241.4,1376.15) scale(0.95,1)" font-size="34.4" font-family='"Liberation Sans", sans-serif' text-anchor="middle">7</text>
<line x1="1319.8" y1="1325.5" x2="1319.8" y2="1340" stroke="#000" stroke-width="4.35" stroke-linecap="butt"/>
<text transform="translate(1319.8,1376.15) scale(0.95,1)" font-size="34.4" font-family='"Liberation Sans", sans-serif' text-anchor="middle">8</text>
<line x1="1398.2" y1="1325.5" x2="1398.2" y2="1340" stroke="#000" stroke-width="4.35" stroke-linecap="butt"/>
<text transform="translate(1398.2,1376.15) scale(0.95,1)" font-size="34.4" font-family='"Liberation Sans", sans-serif' text-anchor="middle">9</text>
<line x1="1476.6" y1="1325.5" x2="1476.6" y2="1340" stroke="#000" stroke-width="4.35" stroke-linecap="butt"/>
<text transform="translate(1476.6,1376.15) scale(0.95,1)" font-size="34.4" font-family='"Liberation Sans", sans-serif' text-anchor="middle">10</text>
<g transform="translate(1476.6,1376.15) scale(0.95,1)"><path transform="translate(-19.13,0) scale(0.01680,-0.01680)" d="M156 0L156 153L515 153L515 1237L197 1010L197 1180L530 1409L696 1409L696 153L1039 153L1039 0Z" fill="#fff" stroke="#fff" stroke-width="142.88" stroke-linejoin="round"/><path transform="translate(-19.13,0) scale(0.01680,-0.01680)" d="M763 0L584 0L584 1161L215 910L215 1100L690 1425L763 1425Z" fill="#000"/></g>
<line x1="866.2" y1="1243.6" x2="880.9" y2="1243.6" stroke="#000" stroke-width="4.35" stroke-linecap="butt"/>
<text transform="translate(856.38,1253.5) scale(0.95,1)" font-size="34.4" font-family='"Liberation Sans", sans-serif' text-anchor="end">2.0</text>
<line x1="866.2" y1="1080" x2="880.9" y2="1080" stroke="#000" stroke-width="4.35" stroke-linecap="butt"/>
<text transform="translate(856.38,1089.9) scale(0.95,1)" font-size="34.4" font-family='"Liberation Sans", sans-serif' text-anchor="end">2.4</text>
<line x1="866.2" y1="916.4" x2="880.9" y2="916.4" stroke="#000" stroke-width="4.35" stroke-linecap="butt"/>
<text transform="translate(856.38,926.3) scale(0.95,1)" font-size="34.4" font-family='"Liberation Sans", sans-serif' text-anchor="end">2.8</text>
<line x1="866.2" y1="752.8" x2="880.9" y2="752.8" stroke="#000" stroke-width="4.35" stroke-linecap="butt"/>
<text transform="translate(856.38,762.7) scale(0.95,1)" font-size="34.4" font-family='"Liberation Sans", sans-serif' text-anchor="end">3.2</text>
<svg x="905.6" y="1130.9" width="60.6" height="62.3" viewBox="0 0 100 100" preserveAspectRatio="none"><rect width="100" height="100" fill="#d2d2d2"/><polygon points="0,0 52,0 51.3,3.3 49.6,2.9 10.9,16.7 0,21.6" fill="#6b6b6b"/><polygon points="51.3,0 100,0 100,51 97.5,36.3 74.8,10 51.3,3.3" fill="#6e6e6e"/><polygon points="10.9,16.7 49.6,2.9 51.3,3.3 74.8,33.1 69.7,36.3 20.2,46.1 10.1,39.6" fill="#bcbcbc"/><polygon points="51.3,3.3 74.8,10 97.5,36.3 99.2,54.3 91.6,88.6 71.4,80.4 69.7,36.3 74.8,33.1" fill="#e6e6e6"/><polygon points="20.2,46.1 69.7,36.3 71.4,80.4 29.4,93.5 19.3,84.5" fill="#a6a6a6"/><polygon points="0,21.6 10.9,16.7 10.1,39.6 20.2,46.1 19.3,84.5 29.4,93.5 0,100" fill="#cdcdcd"/><polyline points="3,30 12,60 22,90" fill="none" stroke="#e8e8e8" stroke-width="3"/><polygon points="29.4,93.5 71.4,80.4 91.6,88.6 100,95 100,100 12,100" fill="#ececec"/><polygon points="91.6,88.6 100,84 100,100 90,100" fill="#9c9c9c"/></svg>
<svg x="989.9" y="1019.1" width="63.8" height="70.6" viewBox="0 0 100 100" preserveAspectRatio="none"><rect width="100" height="100" fill="#8f8f8f"/><defs><radialGradient id="sg" cx="0.5" cy="0.5" r="0.5"><stop offset="0" stop-color="#b9b9b9"/><stop offset="0.75" stop-color="#c6c6c6"/><stop offset="1" stop-color="#d9d9d9"/></radialGradient></defs><polygon points="60,0 100,0 100,30 85,35 70,20" fill="#a0a0a0"/><polygon points="75,25 100,15 100,65 83,60" fill="#7c7c7c"/><polygon points="80,68 100,63 100,100 45,100" fill="#bdbdbd"/><ellipse cx="37" cy="22" rx="29" ry="20" fill="#bdbdbd"/><ellipse cx="47.3" cy="57.6" rx="34.5" ry="33" fill="url(#sg)"/></svg>
<svg x="1136.4" y="867.8" width="62.5" height="64.4" viewBox="0 0 100 100" preserveAspectRatio="none"><rect width="100" height="100" fill="#9a9a9a"/><rect width="100" height="9" fill="#959595"/><polygon points="3.8,8.6 98.3,11.5 100,25 49.2,97.1" fill="#d0d0d0"/><polygon points="6,10 96,13 80,30 20,28" fill="#dcdcdc"/><polygon points="38,92 45,100 36,100" fill="#c0c0c0"/></svg>
<svg x="1258.9" y="770.2" width="64" height="61.1" viewBox="0 0 100 100" preserveAspectRatio="none"><rect width="100" height="100" fill="#a3a3a3"/><polygon points="62,0 100,0 100,100 85,100 93,70 75,10" fill="#878787"/><polygon points="0,0 62,0 60,8 3.6,33.8 0,40" fill="#b2b2b2"/><defs><linearGradient id="cg" x1="0" y1="0" x2="0.5" y2="1"><stop offset="0" stop-color="#cdcdcd"/><stop offset="0.45" stop-color="#b4b4b4"/><stop offset="1" stop-color="#a9a9a9"/></linearGradient></defs><polygon points="3.6,33.8 68.1,7.6 93.1,68.4 88,80 35.9,98.7" fill="url(#cg)"/><line x1="5" y1="37" x2="34" y2="98" stroke="#dcdcdc" stroke-width="3.5"/><ellipse cx="78" cy="98" rx="16" ry="8" fill="#c6c6c6"/></svg>
<line x1="939" y1="1205" x2="939" y2="1287.2" stroke="#000" stroke-width="3.5" stroke-linecap="butt"/>
<line x1="929.25" y1="1205" x2="948.75" y2="1205" stroke="#000" stroke-width="3.5" stroke-linecap="butt"/>
<line x1="929.25" y1="1287.2" x2="948.75" y2="1287.2" stroke="#000" stroke-width="3.5" stroke-linecap="butt"/>
<line x1="923.1" y1="1245.6" x2="956" y2="1245.6" stroke="#000" stroke-width="3.5" stroke-linecap="butt"/>
<line x1="923.1" y1="1235.8" x2="923.1" y2="1255.4" stroke="#000" stroke-width="3.5" stroke-linecap="butt"/>
<line x1="956" y1="1235.8" x2="956" y2="1255.4" stroke="#000" stroke-width="3.5" stroke-linecap="butt"/>
<line x1="1064.6" y1="1076.2" x2="1064.6" y2="1158.4" stroke="#000" stroke-width="3.5" stroke-linecap="butt"/>
<line x1="1054.85" y1="1076.2" x2="1074.35" y2="1076.2" stroke="#000" stroke-width="3.5" stroke-linecap="butt"/>
<line x1="1054.85" y1="1158.4" x2="1074.35" y2="1158.4" stroke="#000" stroke-width="3.5" stroke-linecap="butt"/>
<line x1="1048.6" y1="1117.1" x2="1080.3" y2="1117.1" stroke="#000" stroke-width="3.5" stroke-linecap="butt"/>
<line x1="1048.6" y1="1107.3" x2="1048.6" y2="1126.9" stroke="#000" stroke-width="3.5" stroke-linecap="butt"/>
<line x1="1080.3" y1="1107.3" x2="1080.3" y2="1126.9" stroke="#000" stroke-width="3.5" stroke-linecap="butt"/>
<line x1="1215" y1="904.6" x2="1215" y2="986.5" stroke="#000" stroke-width="3.5" stroke-linecap="butt"/>
<line x1="1205.25" y1="904.6" x2="1224.75" y2="904.6" stroke="#000" stroke-width="3.5" stroke-linecap="butt"/>
<line x1="1205.25" y1="986.5" x2="1224.75" y2="986.5" stroke="#000" stroke-width="3.5" stroke-linecap="butt"/>
<line x1="1199.9" y1="945" x2="1231" y2="945" stroke="#000" stroke-width="3.5" stroke-linecap="butt"/>
<line x1="1199.9" y1="935.2" x2="1199.9" y2="954.8" stroke="#000" stroke-width="3.5" stroke-linecap="butt"/>
<line x1="1231" y1="935.2" x2="1231" y2="954.8" stroke="#000" stroke-width="3.5" stroke-linecap="butt"/>
<line x1="1353.8" y1="776" x2="1353.8" y2="857.8" stroke="#000" stroke-width="3.5" stroke-linecap="butt"/>
<line x1="1344.05" y1="776" x2="1363.55" y2="776" stroke="#000" stroke-width="3.5" stroke-linecap="butt"/>
<line x1="1344.05" y1="857.8" x2="1363.55" y2="857.8" stroke="#000" stroke-width="3.5" stroke-linecap="butt"/>
<line x1="1338.7" y1="816.6" x2="1369.9" y2="816.6" stroke="#000" stroke-width="3.5" stroke-linecap="butt"/>
<line x1="1338.7" y1="806.8" x2="1338.7" y2="826.4" stroke="#000" stroke-width="3.5" stroke-linecap="butt"/>
<line x1="1369.9" y1="806.8" x2="1369.9" y2="826.4" stroke="#000" stroke-width="3.5" stroke-linecap="butt"/>
<circle cx="939" cy="1245.6" r="6.75" fill="#00ff00" stroke="#000" stroke-width="1.85"/>
<circle cx="1064.6" cy="1117.1" r="6.75" fill="#00ff00" stroke="#000" stroke-width="1.85"/>
<circle cx="1215" cy="945" r="6.75" fill="#00ff00" stroke="#000" stroke-width="1.85"/>
<circle cx="1353.8" cy="816.6" r="6.75" fill="#00ff00" stroke="#000" stroke-width="1.85"/>
<line x1="939.4" y1="1245.2" x2="1353.5" y2="811" stroke="#ff0000" stroke-width="5.7" stroke-linecap="butt"/>
<text transform="translate(975.77,1263.7) scale(0.99,1)" font-size="29" font-family='"Liberation Sans", sans-serif'>{110}, 0.78 J m</text>
<g transform="translate(975.77,1263.7) scale(0.99,1)"><path transform="translate(9.68,0) scale(0.01416,-0.01416)" d="M156 0L156 153L515 153L515 1237L197 1010L197 1180L530 1409L696 1409L696 153L1039 153L1039 0Z" fill="#fff" stroke="#fff" stroke-width="169.49" stroke-linejoin="round"/><path transform="translate(9.68,0) scale(0.01416,-0.01416)" d="M763 0L584 0L584 1161L215 910L215 1100L690 1425L763 1425Z" fill="#000"/><path transform="translate(25.81,0) scale(0.01416,-0.01416)" d="M156 0L156 153L515 153L515 1237L197 1010L197 1180L530 1409L696 1409L696 153L1039 153L1039 0Z" fill="#fff" stroke="#fff" stroke-width="169.49" stroke-linejoin="round"/><path transform="translate(25.81,0) scale(0.01416,-0.01416)" d="M763 0L584 0L584 1161L215 910L215 1100L690 1425L763 1425Z" fill="#000"/></g>
<text transform="translate(1168.1,1251.9) scale(0.98,1)" font-size="20.4" font-family='"Liberation Sans", sans-serif'>&#8211;2</text>
<text transform="translate(1169.47,1042.9) scale(0.99,1)" font-size="29" font-family='"Liberation Sans", sans-serif'>{111}, 1.65 J m</text>
<g transform="translate(1169.47,1042.9) scale(0.99,1)"><path transform="translate(9.68,0) scale(0.01416,-0.01416)" d="M156 0L156 153L515 153L515 1237L197 1010L197 1180L530 1409L696 1409L696 153L1039 153L1039 0Z" fill="#fff" stroke="#fff" stroke-width="169.49" stroke-linejoin="round"/><path transform="translate(9.68,0) scale(0.01416,-0.01416)" d="M763 0L584 0L584 1161L215 910L215 1100L690 1425L763 1425Z" fill="#000"/><path transform="translate(25.81,0) scale(0.01416,-0.01416)" d="M156 0L156 153L515 153L515 1237L197 1010L197 1180L530 1409L696 1409L696 153L1039 153L1039 0Z" fill="#fff" stroke="#fff" stroke-width="169.49" stroke-linejoin="round"/><path transform="translate(25.81,0) scale(0.01416,-0.01416)" d="M763 0L584 0L584 1161L215 910L215 1100L690 1425L763 1425Z" fill="#000"/><path transform="translate(41.94,0) scale(0.01416,-0.01416)" d="M156 0L156 153L515 153L515 1237L197 1010L197 1180L530 1409L696 1409L696 153L1039 153L1039 0Z" fill="#fff" stroke="#fff" stroke-width="169.49" stroke-linejoin="round"/><path transform="translate(41.94,0) scale(0.01416,-0.01416)" d="M763 0L584 0L584 1161L215 910L215 1100L690 1425L763 1425Z" fill="#000"/><path transform="translate(83.87,0) scale(0.01416,-0.01416)" d="M156 0L156 153L515 153L515 1237L197 1010L197 1180L530 1409L696 1409L696 153L1039 153L1039 0Z" fill="#fff" stroke="#fff" stroke-width="169.49" stroke-linejoin="round"/><path transform="translate(83.87,0) scale(0.01416,-0.01416)" d="M763 0L584 0L584 1161L215 910L215 1100L690 1425L763 1425Z" fill="#000"/></g>
<text transform="translate(1362.1,1030.9) scale(0.97,1)" font-size="20.4" font-family='"Liberation Sans", sans-serif'>&#8211;2</text>
<text transform="translate(1268.07,919.9) scale(0.99,1)" font-size="29" font-family='"Liberation Sans", sans-serif'>{100} 0.67 J m</text>
<g transform="translate(1268.07,919.9) scale(0.99,1)"><path transform="translate(9.68,0) scale(0.01416,-0.01416)" d="M156 0L156 153L515 153L515 1237L197 1010L197 1180L530 1409L696 1409L696 153L1039 153L1039 0Z" fill="#fff" stroke="#fff" stroke-width="169.49" stroke-linejoin="round"/><path transform="translate(9.68,0) scale(0.01416,-0.01416)" d="M763 0L584 0L584 1161L215 910L215 1100L690 1425L763 1425Z" fill="#000"/></g>
<text transform="translate(1452.7,908.1) scale(0.95,1)" font-size="20.4" font-family='"Liberation Sans", sans-serif'>&#8211;2</text>
<text transform="translate(769.25,757.97) scale(1.02,1)" font-size="42.86" font-family='"Liberation Sans", sans-serif'>d</text>
<text transform="translate(796.3,1089.2) rotate(-90) scale(0.93,1)" font-size="43.21" font-family='"Liberation Sans", sans-serif'>AQY</text>
<text transform="translate(797.24,1005.9) rotate(-90) scale(0.93,1)" font-size="43.21" font-family='"Liberation Sans", sans-serif'>,</text>
<text transform="translate(796.3,980.91) rotate(-90) scale(0.87,1)" font-size="43.21" font-family='"Liberation Sans", sans-serif'>%</text>
<path transform="translate(1081.7,1426.6) rotate(0) scale(1,1)" d="M0 0L12.6 0L12.5 -0.8C10.5 -0.9 9.5 -1.4 9.0 -3.0L15.9 -25.3L26.6 -25.3C27.9 -25.3 28.4 -24.2 28.7 -20.6L29.6 -20.6L31.6 -27.4L8.8 -27.4L8.9 -26.6C10.4 -26.5 11.2 -25.8 11.6 -24.3L4.9 -2.6C4.4 -1.4 3.0 -0.9 0.2 -0.8Z" fill="#000"/>
<text transform="translate(1114.91,1410.5) scale(1.1,1)" font-size="27.29" font-family='"Liberation Sans", sans-serif'>2</text>
<text transform="translate(1129.94,1426.01) scale(0.96,1)" font-size="42.3" font-family='"Liberation Sans", sans-serif'>,</text>
<text transform="translate(1153.77,1426.18) scale(0.96,1)" font-size="42.3" font-family='"Liberation Sans", sans-serif'>mmol</text>
<text transform="translate(1252.27,1409.6) scale(1.05,1)" font-size="27.29" font-family='"Liberation Sans", sans-serif'>2</text>
<text transform="translate(1279.88,1426.13) scale(0.96,1)" font-size="42.3" font-family='"Liberation Sans", sans-serif'>g</text>
<text transform="translate(1301.92,1409.6) scale(1.04,1)" font-size="27.3" font-family='"Liberation Sans", sans-serif'>-2</text>
</svg></body></html>
